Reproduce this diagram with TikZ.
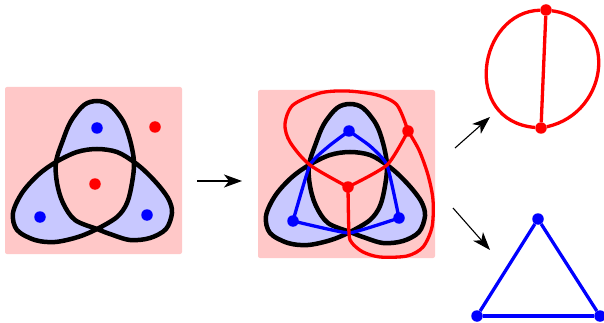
\documentclass[tikz,border=0pt]{standalone}
\usetikzlibrary{arrows.meta}
\definecolor{pinkbg}{RGB}{255,200,200}
\definecolor{lobe}{RGB}{200,200,255}
\tikzset{
 panel/.style={fill=pinkbg, rounded corners=2pt},
 knot/.style={draw=black, line width=4.5pt, fill=lobe, even odd rule},
 rdot/.style={circle, fill=red, inner sep=0pt, minimum size=11.5pt},
 bdot/.style={circle, fill=blue, inner sep=0pt, minimum size=11.5pt},
 redge/.style={draw=red, line width=3.3pt},
 bedge/.style={draw=blue, line width=3.3pt},
 arr/.style={-{Stealth[length=18pt,width=13pt,inset=5pt]}, line width=1.1pt},
 trefoil/.pic={
  \path[knot] plot[smooth cycle, tension=0.55] coordinates {(97,101) (84,105) (71,121) (63,140) (56,162) (57,183) (63,203) (75,220) (97,229) (110,234) (130,240) (150,238) (166,229) (172,213) (169,200) (160,187) (147,173) (134,162) (117,152) (97,149) (77,152) (56,162) (38,175) (22,193) (13,213) (17,230) (35,240) (55,242) (78,237) (97,229) (117,217) (127,203) (132,183) (134,162) (130,140) (123,121) (110,105)};
 },
}
\begin{document}
\begin{tikzpicture}[x=1pt,y=-1pt]
\useasboundingbox (0,0) rectangle (604,323);
% left panel
\fill[panel] (5,87) rectangle (182,254);
\pic at (0,0) {trefoil};
\node[bdot] (lt) at (97,128) {};
\node[bdot] (ll) at (40,217) {};
\node[bdot] (lr) at (147,215) {};
\node[rdot] (lc) at (95,184) {};
\node[rdot] (lo) at (155,127) {};
% middle panel
\fill[panel] (258,90) rectangle (435,258);
\pic at (253,3) {trefoil};
\coordinate (xl) at (310,165);
\coordinate (xr) at (387,165);
\coordinate (xb) at (349,233);
\node[bdot] (mt) at (349,131) {};
\node[bdot] (ml) at (293,221) {};
\node[bdot] (mr) at (399,218) {};
\node[rdot] (mc) at (348,187) {};
\node[rdot] (mo) at (408,131) {};
\draw[bedge] plot[smooth, tension=0.3] coordinates {(mt) (329,146) (xl) (ml)};
\draw[bedge] plot[smooth, tension=0.3] coordinates {(mt) (370,146) (xr) (mr)};
\draw[bedge] plot[smooth, tension=0.2] coordinates {(ml) (xb) (mr)};
\draw[redge] plot[smooth, tension=0.5] coordinates {(mc) (xl) (290,142) (285,124) (293,105) (320,93) (347,91) (377,95) (397,105) (mo)};
\draw[redge] plot[smooth, tension=0.4] coordinates {(mc) (xr) (mo)};
\draw[redge] plot[smooth, tension=0.5] coordinates {(mc) (xb) (352,243) (363,252) (380,257) (407,256) (423,247) (432,227) (433,200) (428,175) (419,150) (mo)};
% right: red theta graph
\node[rdot] (rt) at (546,10) {};
\node[rdot] (rb) at (541,128) {};
\draw[redge] (rt) .. controls (478,12) and (461,121) .. (rb);
\draw[redge] (rt) .. controls (620,20) and (610,113) .. (rb);
\draw[redge] (rt) -- (rb);
% right: blue triangle
\node[bdot] (ta) at (538,219) {};
\node[bdot] (tl) at (477,316) {};
\node[bdot] (tr) at (600,316) {};
\draw[bedge] (ta) -- (tl);
\draw[bedge] (tl) -- (tr);
\draw[bedge] (tr) -- (ta);
% arrows
\coordinate (a1s) at (197,181);
\coordinate (a1e) at (242,181);
\coordinate (a2s) at (455,148);
\coordinate (a2e) at (490,117);
\coordinate (a3s) at (453,208);
\coordinate (a3e) at (490,250);
\draw[arr] (a1s) -- (a1e);
\draw[arr] (a2s) -- (a2e);
\draw[arr] (a3s) -- (a3e);
\end{tikzpicture}
\end{document}
